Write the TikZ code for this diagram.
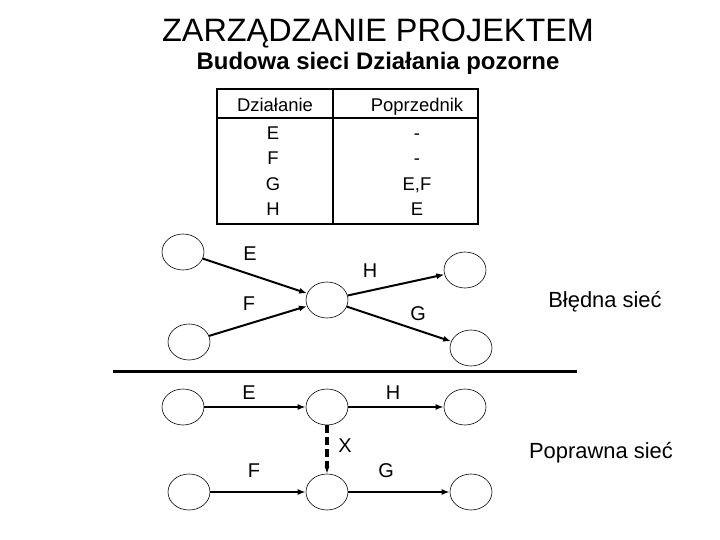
\documentclass[tikz,border=0pt]{standalone}
\usepackage{fontspec}
\setmainfont{Liberation Sans}
\usetikzlibrary{arrows.meta,shapes.geometric}

\begin{document}
\begin{tikzpicture}[
  x=1bp, y=-1bp,
  every node/.style={inner sep=0pt, anchor=base},
  event/.style={draw, ellipse, anchor=center, minimum width=42bp, minimum height=36bp, line width=0.6pt},
  cell/.style={font=\fontsize{18.5}{18.5}\selectfont},
  act/.style={font=\fontsize{20}{20}\selectfont},
  note/.style={font=\fontsize{22}{22}\selectfont},
  arrow/.style={-{Latex[length=8bp,width=6bp]}, line width=2bp},
  dummy/.style={-{Latex[length=7bp,width=5bp]}, line width=3.5bp, dash pattern=on 8bp off 4bp}
]
\useasboundingbox (0,0) rectangle (720,540);

\node[font=\fontsize{32.5}{32.5}\selectfont] (title) at (378,42) {ZARZĄDZANIE PROJEKTEM};
\node[font=\fontsize{24}{24}\selectfont\bfseries] (subtitle) at (378,70) {Budowa sieci Działania pozorne};

% table
\draw[line width=2bp] (217,89) rectangle (478,224);
\draw[line width=2bp] (217,118) -- (478,118);
\draw[line width=2bp] (333,89) -- (333,224);
\node[cell] (hdract) at (275,112) {Działanie};
\node[cell] (hdrprev) at (417,112) {Poprzednik};
\node[cell] (actE) at (273,140) {E};
\node[cell] (actF) at (273,165) {F};
\node[cell] (actG) at (273,191) {G};
\node[cell] (actH) at (273,216) {H};
\node[cell] (prevE) at (417,140) {-};
\node[cell] (prevF) at (417,165) {-};
\node[cell] (prevG) at (417,191) {E,F};
\node[cell] (prevH) at (417,216) {E};

% wrong network
\node[event] (w1) at (183,252) {};
\node[event] (w2) at (189,342) {};
\node[event] (wmid) at (327,300) {};
\node[event] (w3) at (465,270) {};
\node[event] (w4) at (471,348) {};
\draw[arrow] (w1) -- (wmid);
\draw[arrow] (w2) -- (wmid);
\draw[arrow] (wmid) -- (w3);
\draw[arrow] (wmid) -- (w4);
\node[act] (wE) at (250,261) {E};
\node[act] (wF) at (249,310) {F};
\node[act] (wH) at (370,278) {H};
\node[act] (wG) at (418,320) {G};
\node[note] (wrong) at (605,307) {Błędna sieć};

\draw[line width=3.5bp] (113,371.5) -- (577,371.5);

% correct network
\node[event] (c1) at (183,407) {};
\node[event] (c2) at (327,407) {};
\node[event] (c3) at (465,407) {};
\node[event] (c4) at (189,492) {};
\node[event] (c5) at (327,492) {};
\node[event] (c6) at (471,492) {};
\draw[arrow] (c1) -- (c2);
\draw[arrow] (c2) -- (c3);
\draw[arrow] (c4) -- (c5);
\draw[arrow] (c5) -- (c6);
\draw[dummy] (c2) -- (c5);
\node[act] (cE) at (249,399) {E};
\node[act] (cH) at (393,399) {H};
\node[act] (cX) at (345,452) {X};
\node[act] (cF) at (254,477) {F};
\node[act] (cG) at (386,477) {G};
\node[note] (right) at (601,458) {Poprawna sieć};
\end{tikzpicture}
\end{document}
